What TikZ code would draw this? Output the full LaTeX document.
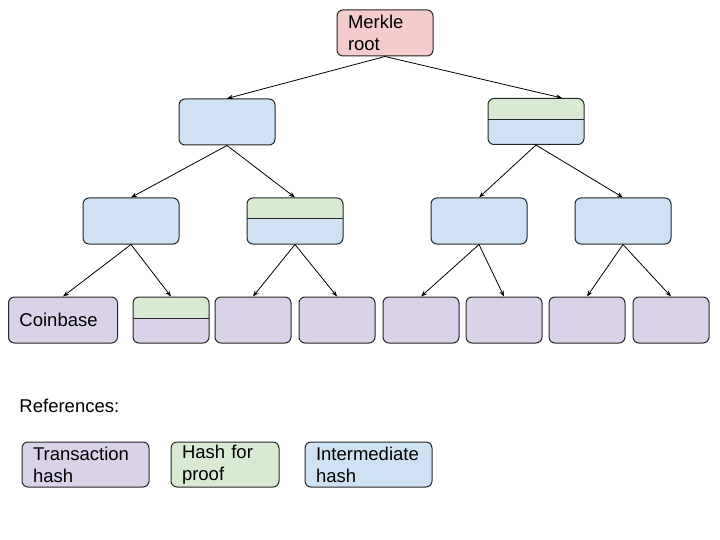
\documentclass[tikz,border=0pt]{standalone}
\usepackage{fontspec}
\setmainfont{Liberation Sans}
\usetikzlibrary{arrows.meta}
\definecolor{rootpink}{HTML}{F4CCCC}
\definecolor{proofgreen}{HTML}{D9EAD3}
\definecolor{interblue}{HTML}{CFE2F3}
\definecolor{txpurple}{HTML}{D9D2E9}
\newcommand{\lblfont}{\fontsize{18.5}{22}\selectfont}

\begin{document}
\begin{tikzpicture}[x=1pt,y=-1pt,line width=1pt,
  hashbox/.style={draw=black!85, rounded corners=6pt, inner xsep=11pt, inner ysep=0pt,
    minimum height=46pt, align=left, font=\lblfont},
  wide/.style={hashbox, text width=74pt},
  leaf/.style={hashbox, text width=54pt, fill=txpurple},
  proof/.style={path picture={
    \fill[proofgreen] (path picture bounding box.north west) rectangle ([yshift=2pt]path picture bounding box.east);
    \draw[black!85] ([yshift=2pt]path picture bounding box.west) -- ([yshift=2pt]path picture bounding box.east);}},
  link/.style={-{Stealth[length=6pt,width=4.5pt]}, line width=0.8pt}]
\useasboundingbox (0,0) rectangle (720,540);

% tree
\node[wide, fill=rootpink] (root) at (385,33) {Merkle\\root};
\node[wide, fill=interblue] (l1a) at (227,122) {};
\node[wide, fill=interblue, proof] (l1b) at (536,121.5) {};
\node[wide, fill=interblue] (l2a) at (131,221) {};
\node[wide, fill=interblue, proof] (l2b) at (295,221) {};
\node[wide, fill=interblue] (l2c) at (479,221) {};
\node[wide, fill=interblue] (l2d) at (623,221) {};
\node[hashbox, text width=87pt, fill=txpurple] (coinbase) at (63,320) {Coinbase};
\node[leaf, proof] (t2) at (171,320) {};
\node[leaf] (t3) at (253,320) {};
\node[leaf] (t4) at (337,320) {};
\node[leaf] (t5) at (421,320) {};
\node[leaf] (t6) at (504,320) {};
\node[leaf] (t7) at (587,320) {};
\node[leaf] (t8) at (671,320) {};

\draw[link] (root.south) -- (l1a.north);
\draw[link] (root.south) -- ([xshift=26pt]l1b.north);
\draw[link] (l1a.south) -- (l2a.north);
\draw[link] (l1a.south) -- (l2b.north);
\draw[link] (l1b.south) -- (l2c.north);
\draw[link] (l1b.south) -- (l2d.north);
\draw[link] (l2a.south) -- (coinbase.north);
\draw[link] (l2a.south) -- (t2.north);
\draw[link] (l2b.south) -- (t3.north);
\draw[link] (l2b.south) -- (t4.north);
\draw[link] (l2c.south) -- (t5.north);
\draw[link] (l2c.south) -- (t6.north);
\draw[link] (l2d.south) -- (t7.north);
\draw[link] (l2d.south) -- (t8.north);

% legend
\node[anchor=west, font=\lblfont, inner sep=0pt] (refs) at (19,406) {References:};
\node[hashbox, text width=105pt, minimum height=45pt, fill=txpurple] (keytx) at (85.5,464.5) {Transaction\\hash};
\node[hashbox, text width=86pt, minimum height=45pt, fill=proofgreen] (keyproof) at (225,464.5) {Hash for\\proof};
\node[hashbox, text width=105pt, minimum height=45pt, fill=interblue] (keyinter) at (368.5,464.5) {Intermediate\\hash};
\end{tikzpicture}
\end{document}
